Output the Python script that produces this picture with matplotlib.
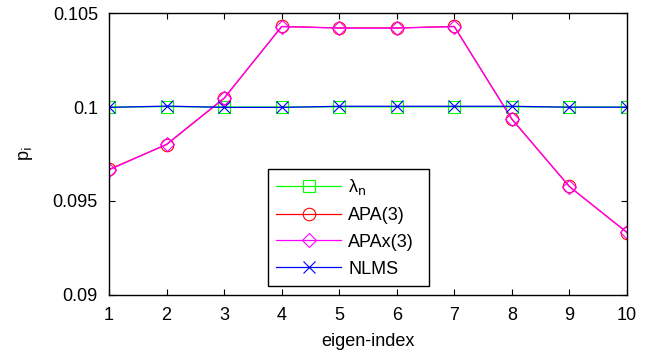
import matplotlib
matplotlib.use("Agg")
import matplotlib.pyplot as plt

plt.rcParams['font.family'] = ['Liberation Sans', 'DejaVu Sans']

# 数据
eigen_index = [1, 2, 3, 4, 5, 6, 7, 8, 9, 10]
lambda_n = [0.10000, 0.10002, 0.10000, 0.10000, 0.10001, 0.10001, 0.10001, 0.10001, 0.10000, 0.10000]
apa3 = [0.09668, 0.09800, 0.10046, 0.10429, 0.10421, 0.10421, 0.10429, 0.09935, 0.09577, 0.09332]
apax3 = [0.09665, 0.09802, 0.10048, 0.10428, 0.10420, 0.10420, 0.10428, 0.09937, 0.09576, 0.09333]
nlms = [0.09998, 0.10005, 0.09998, 0.09998, 0.10004, 0.10004, 0.10004, 0.10004, 0.09999, 0.09999]
yticks = [0.09, 0.095, 0.1, 0.105]
ytick_labels = ['0.09', '0.095', '0.1', '0.105']

fig = plt.figure(figsize=(6.49, 3.54), dpi=100)
ax = fig.add_axes([0.168, 0.167, 0.798, 0.796])

ax.plot(eigen_index, lambda_n, color='#00ff00', lw=0.9, marker='s', ms=8,
        mfc='none', mew=0.8, label='λ$_\\mathrm{n}$')
ax.plot(eigen_index, apa3, color='red', lw=0.9, marker='o', ms=9,
        mfc='none', mew=0.8, label='APA(3)')
ax.plot(eigen_index, apax3, color='magenta', lw=0.9, marker='D', ms=7,
        mfc='none', mew=0.8, label='APAx(3)')
ax.plot(eigen_index, nlms, color='blue', lw=0.9, marker='x', ms=8,
        mew=0.8, label='NLMS')

ax.set_xlim(1, 10)
ax.set_ylim(0.09, 0.105)
ax.set_xticks(eigen_index)
ax.set_yticks(yticks)
ax.set_yticklabels(ytick_labels)
ax.tick_params(direction='in', top=True, right=True, labelsize=13, length=4)
ax.tick_params(axis='x', pad=9)
ax.tick_params(axis='y', pad=8)
for s in ax.spines.values():
    s.set_linewidth(1.0)
ax.set_xlabel('eigen-index', fontsize=13, labelpad=6)
ax.set_ylabel('p$_\\mathrm{i}$', fontsize=13, labelpad=13)

leg = ax.legend(loc='lower left', bbox_to_anchor=(0.307, 0.032, 0.311, 0.418),
                mode='expand', fontsize=13, handlelength=3.6, fancybox=False,
                framealpha=1, edgecolor='black', borderaxespad=0, labelspacing=0.55,
                borderpad=0.45, handletextpad=0.4)
leg.get_frame().set_linewidth(1.0)

fig.savefig('out.png', dpi=100)
